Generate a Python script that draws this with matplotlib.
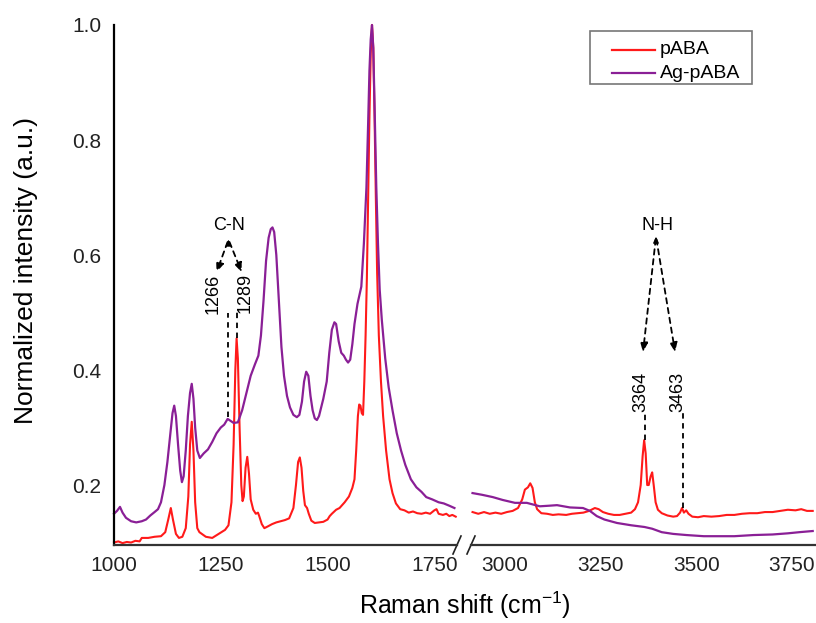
import matplotlib.pyplot as plt
from matplotlib.patches import Rectangle
from matplotlib.lines import Line2D

plt.rcParams['font.family'] = ['Liberation Sans', 'DejaVu Sans']
plt.rcParams['mathtext.default'] = 'regular'

# ---- data ----
# pABA, 1000-1800 cm-1
x_paba_low = [1000, 1010, 1020, 1030, 1040, 1050, 1060, 1065, 1080, 1095, 1110, 1120,
              1127, 1133, 1138, 1145, 1152, 1160, 1168, 1174, 1178, 1182, 1186, 1190,
              1195, 1200, 1215, 1230, 1245, 1260, 1268, 1275, 1280, 1284, 1287, 1290,
              1294, 1298, 1301, 1304, 1308, 1312, 1316, 1320, 1326, 1332, 1337, 1340,
              1346, 1352, 1360, 1370, 1380, 1390, 1400, 1410, 1420, 1426, 1431, 1435,
              1439, 1443, 1447, 1452, 1456, 1462, 1470, 1480, 1490, 1500, 1505, 1510,
              1520, 1528, 1540, 1550, 1558, 1563, 1567, 1571, 1574, 1577, 1580, 1583,
              1586, 1589, 1592, 1595, 1598, 1601, 1604, 1607, 1610, 1613, 1616, 1620,
              1625, 1630, 1637, 1645, 1652, 1660, 1670, 1680, 1690, 1700, 1710, 1720,
              1730, 1740, 1750, 1755, 1760, 1770, 1778, 1785, 1792, 1800]
y_paba_low = [0.100, 0.102, 0.099, 0.101, 0.100, 0.103, 0.102, 0.108, 0.108, 0.110, 0.111, 0.118,
              0.140, 0.160, 0.140, 0.115, 0.108, 0.110, 0.125, 0.180, 0.270, 0.310, 0.260, 0.170,
              0.125, 0.118, 0.110, 0.108, 0.115, 0.122, 0.130, 0.170, 0.270, 0.400, 0.455, 0.420,
              0.300, 0.200, 0.172, 0.180, 0.230, 0.249, 0.220, 0.175, 0.157, 0.150, 0.152, 0.146,
              0.132, 0.125, 0.128, 0.132, 0.135, 0.137, 0.139, 0.142, 0.160, 0.200, 0.240, 0.248,
              0.230, 0.190, 0.165, 0.160, 0.150, 0.138, 0.134, 0.135, 0.136, 0.140, 0.146, 0.150,
              0.157, 0.160, 0.170, 0.180, 0.195, 0.210, 0.260, 0.320, 0.340, 0.338, 0.325, 0.322,
              0.380, 0.460, 0.560, 0.700, 0.840, 0.950, 1.000, 0.960, 0.840, 0.700, 0.570, 0.460,
              0.380, 0.320, 0.260, 0.210, 0.186, 0.168, 0.158, 0.156, 0.152, 0.154, 0.151, 0.150,
              0.152, 0.150, 0.156, 0.158, 0.150, 0.148, 0.150, 0.146, 0.148, 0.145]

# Ag-pABA, 1000-1800 cm-1
x_ag_low = [1000, 1007, 1014, 1020, 1028, 1040, 1052, 1065, 1075, 1085, 1095, 1103,
            1110, 1118, 1125, 1132, 1137, 1141, 1145, 1150, 1155, 1159, 1163, 1168,
            1173, 1178, 1182, 1186, 1190, 1195, 1201, 1210, 1220, 1230, 1240, 1250,
            1258, 1266, 1272, 1280, 1290, 1300, 1310, 1320, 1330, 1338, 1344, 1350,
            1356, 1362, 1367, 1371, 1375, 1380, 1386, 1392, 1398, 1405, 1412, 1420,
            1428, 1434, 1440, 1445, 1450, 1455, 1460, 1465, 1470, 1475, 1480, 1490,
            1498, 1504, 1510, 1516, 1520, 1526, 1532, 1538, 1543, 1548, 1553, 1558,
            1563, 1570, 1579, 1585, 1591, 1595, 1598, 1601, 1604, 1607, 1610, 1614,
            1618, 1622, 1627, 1635, 1643, 1652, 1662, 1672, 1682, 1695, 1708, 1720,
            1731, 1745, 1760, 1772, 1785, 1797]
y_ag_low = [0.150, 0.155, 0.162, 0.152, 0.143, 0.137, 0.135, 0.137, 0.140, 0.147, 0.153, 0.158,
            0.170, 0.200, 0.240, 0.290, 0.325, 0.338, 0.320, 0.270, 0.225, 0.205, 0.215, 0.260,
            0.320, 0.360, 0.376, 0.350, 0.300, 0.260, 0.247, 0.255, 0.262, 0.275, 0.290, 0.300,
            0.305, 0.315, 0.312, 0.308, 0.309, 0.330, 0.360, 0.390, 0.410, 0.425, 0.460, 0.520,
            0.590, 0.630, 0.645, 0.648, 0.640, 0.600, 0.520, 0.440, 0.390, 0.355, 0.335, 0.322,
            0.318, 0.322, 0.345, 0.380, 0.397, 0.390, 0.355, 0.330, 0.316, 0.313, 0.320, 0.350,
            0.380, 0.430, 0.470, 0.483, 0.480, 0.450, 0.430, 0.425, 0.418, 0.413, 0.418, 0.445,
            0.480, 0.515, 0.545, 0.620, 0.718, 0.830, 0.920, 0.975, 1.000, 0.960, 0.860, 0.720,
            0.620, 0.540, 0.487, 0.420, 0.370, 0.330, 0.290, 0.260, 0.235, 0.210, 0.196, 0.188,
            0.179, 0.175, 0.170, 0.168, 0.164, 0.160]

# pABA, 2900-3800 cm-1
x_paba_high = [2915, 2930, 2945, 2960, 2975, 2990, 3005, 3020, 3034, 3045, 3052, 3060,
               3066, 3072, 3078, 3084, 3095, 3110, 3125, 3140, 3160, 3175, 3190, 3205,
               3220, 3235, 3245, 3256, 3270, 3285, 3300, 3315, 3330, 3340, 3348, 3355,
               3360, 3364, 3368, 3372, 3376, 3381, 3385, 3389, 3394, 3400, 3410, 3425,
               3440, 3450, 3458, 3463, 3468, 3474, 3480, 3490, 3505, 3520, 3540, 3560,
               3580, 3600, 3620, 3640, 3660, 3680, 3700, 3720, 3740, 3760, 3775, 3790, 3805]
y_paba_high = [0.153, 0.150, 0.153, 0.150, 0.152, 0.150, 0.153, 0.155, 0.160, 0.175, 0.192, 0.196,
               0.203, 0.195, 0.170, 0.158, 0.151, 0.150, 0.148, 0.149, 0.148, 0.150, 0.151, 0.152,
               0.155, 0.160, 0.158, 0.153, 0.150, 0.148, 0.148, 0.150, 0.152, 0.158, 0.170, 0.200,
               0.250, 0.278, 0.255, 0.200, 0.200, 0.215, 0.222, 0.200, 0.170, 0.157, 0.151, 0.147,
               0.145, 0.146, 0.152, 0.160, 0.152, 0.156, 0.150, 0.145, 0.144, 0.146, 0.145, 0.146,
               0.148, 0.148, 0.150, 0.151, 0.151, 0.153, 0.153, 0.155, 0.157, 0.156, 0.158, 0.155, 0.155]

# Ag-pABA, 2900-3800 cm-1
x_ag_high = [2915, 2940, 2968, 2994, 3026, 3057, 3091, 3115, 3136, 3170, 3204, 3222,
             3240, 3260, 3293, 3330, 3365, 3385, 3410, 3440, 3475, 3520, 3560, 3600,
             3650, 3700, 3740, 3770, 3805]
y_ag_high = [0.186, 0.183, 0.179, 0.174, 0.169, 0.169, 0.163, 0.164, 0.165, 0.161, 0.160, 0.155,
             0.146, 0.140, 0.134, 0.130, 0.127, 0.124, 0.118, 0.115, 0.113, 0.111, 0.111, 0.111,
             0.113, 0.114, 0.116, 0.118, 0.120]

series_names = ['pABA', 'Ag-pABA']
ticks_low = [1000, 1250, 1500, 1750]
ticks_high = [3000, 3250, 3500, 3750]
ticks_y = [0.2, 0.4, 0.6, 0.8, 1.0]

# band annotations
cn_apex = (1268, 0.627)
cn_tips = [1240, 1299]
cn_tip_y = 0.570
nh_apex = (3395, 0.632)
nh_tips = [3361, 3445]
nh_tip_y = 0.431

c_red = '#ff1a1a'
c_purple = '#8a1f96'
colors = [c_red, c_purple]

fig = plt.figure(figsize=(8.16, 6.23), dpi=100)
W, H = 816, 623
ax1 = fig.add_axes([114 / W, 78 / H, (457 - 114) / W, 520 / H])
ax2 = fig.add_axes([471 / W, 78 / H, (815 - 471) / W, 520 / H])

ax1.plot(x_paba_low, y_paba_low, color=c_red, lw=1.5, clip_on=False)
ax1.plot(x_ag_low, y_ag_low, color=c_purple, lw=1.6, clip_on=False)
ax2.plot(x_paba_high, y_paba_high, color=c_red, lw=1.5, clip_on=False)
ax2.plot(x_ag_high, y_ag_high, color=c_purple, lw=1.6, clip_on=False)

ymin, ymax = 0.0957, 1.0
for ax in (ax1, ax2):
    ax.set_ylim(ymin, ymax)
    ax.spines['top'].set_visible(False)
    ax.spines['right'].set_visible(False)
    ax.spines['bottom'].set_linewidth(1.6)
    ax.spines['bottom'].set_color('#333333')
    ax.tick_params(length=0, labelsize=15, colors='#222222')
    ax.tick_params(axis='x', pad=8)

ax1.set_xlim(1000, 1803)
ax2.set_xlim(2911, 3811)
ax1.set_xticks(ticks_low)
ax2.set_xticks(ticks_high)
ax1.set_yticks(ticks_y)
ax1.set_yticklabels([f'{v:.1f}' for v in ticks_y])
ax1.tick_params(axis='y', pad=9)
ax1.spines['left'].set_linewidth(1.6)
ax2.spines['left'].set_visible(False)
ax2.set_yticks([])

# break marks
kw = dict(color='#222222', lw=1.2, clip_on=False)
d = 9 / 520
for ax, xb, wpx in ((ax1, 1.0, 457 - 114), (ax2, 0.0, 815 - 471)):
    dx = 4 / wpx
    ax.plot([xb - dx, xb + dx], [-d, d], transform=ax.transAxes, **kw)

ax1.set_ylabel('Normalized intensity (a.u.)', fontsize=19)
ax1.yaxis.set_label_coords(-76 / 343, (545 - 271) / 520)
fig.text(465 / W, 1 - 605 / H, 'Raman shift (cm$^{-1}$)', fontsize=18,
         ha='center', va='center')

# annotations: dashed shafts with heads at the tips, small caret at the apex
dashes = (0, (3, 2.5))
head = dict(arrowstyle='-|>,head_length=0.55,head_width=0.22', ls=dashes,
            color='black', lw=1.3, shrinkA=2, shrinkB=0)
caret = dict(arrowstyle='-|>,head_length=0.35,head_width=0.16', color='black',
             lw=1.0, shrinkA=0, shrinkB=0)
for ax, apex, tips, ty in ((ax1, cn_apex, cn_tips, cn_tip_y), (ax2, nh_apex, nh_tips, nh_tip_y)):
    for xt in tips:
        ax.annotate('', xy=(xt, ty), xytext=apex, arrowprops=head)
    ax.annotate('', xy=apex, xytext=(apex[0], apex[1] - 0.008), arrowprops=caret)
ax1.text(1270, 0.652, 'C-N', fontsize=13, ha='center', va='center')
ax2.text(3399, 0.652, 'N-H', fontsize=13, ha='center', va='center')

dash = dict(color='black', lw=1.3, ls=dashes)
ax1.plot([1266, 1266], [0.318, 0.500], **dash)
ax1.plot([1287, 1287], [0.455, 0.503], **dash)
ax2.plot([3366, 3366], [0.278, 0.325], **dash)
ax2.plot([3465, 3465], [0.160, 0.325], **dash)
ax1.text(1232, 0.497, '1266', rotation=90, fontsize=13, ha='center', va='bottom')
ax1.text(1308, 0.500, '1289', rotation=90, fontsize=13, ha='center', va='bottom')
ax2.text(3355, 0.327, '3364', rotation=90, fontsize=13, ha='center', va='bottom')
ax2.text(3452, 0.327, '3463', rotation=90, fontsize=13, ha='center', va='bottom')

# legend box drawn in figure pixels
ft = fig.transFigure
fig.patches.append(Rectangle((590 / W, 1 - 84 / H), 162 / W, 53 / H, transform=ft,
                             fill=False, edgecolor='#777777', lw=1.2))
for i, (name, col) in enumerate(zip(series_names, colors)):
    yy = 1 - (50 + 23 * i) / H
    fig.lines.append(Line2D([612 / W, 655 / W], [yy, yy], transform=ft, color=col, lw=1.6))
    fig.text(660 / W, yy, name, fontsize=14, ha='left', va='center')

fig.savefig('out.png', dpi=100)
